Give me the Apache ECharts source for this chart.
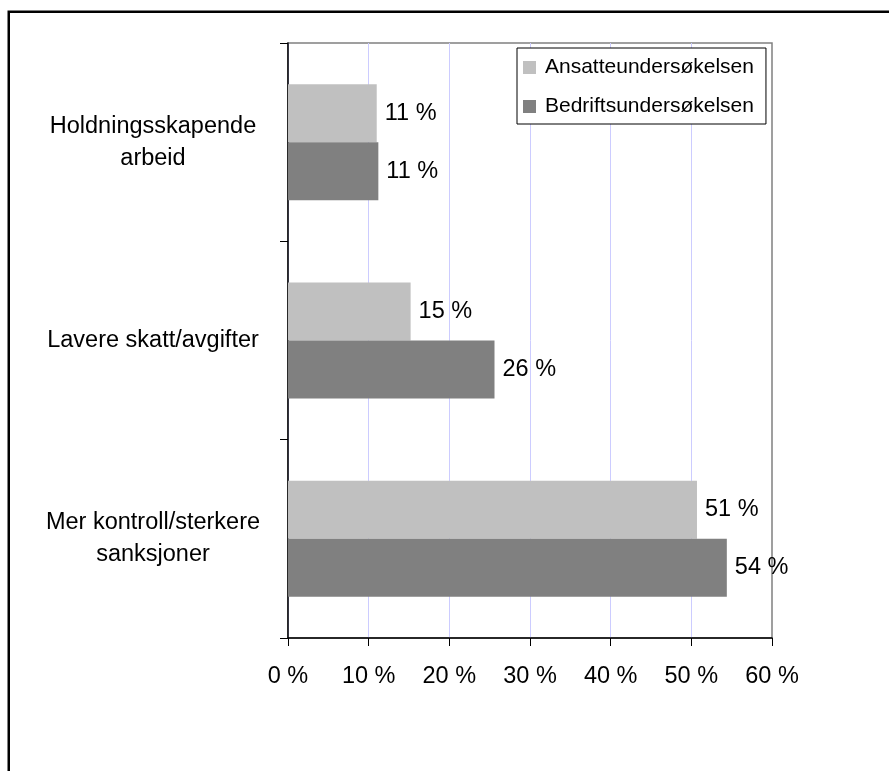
<!DOCTYPE html>
<html>
<head>
<meta charset="utf-8">
<script src="https://cdn.jsdelivr.net/npm/echarts@6/dist/echarts.min.js"></script>
<style>
  html, body { margin: 0; padding: 0; background: #fff; }
  #chart { width: 889px; height: 771px; }
</style>
</head>
<body>
<div id="chart"></div>
<script>
// categories top to bottom
var categories = ['Holdningsskapende\narbeid', 'Lavere skatt/avgifter', 'Mer kontroll/sterkere\nsanksjoner'];
var seriesNames = ['Ansatteundersøkelsen', 'Bedriftsundersøkelsen'];
var ansatte = [11.0, 15.2, 50.7];
var bedrift = [11.2, 25.6, 54.4];
var xTicks = [0, 10, 20, 30, 40, 50, 60];

var font = "'Liberation Sans', Arial, sans-serif";
var chart = echarts.init(document.getElementById('chart'));

var barLabel = {
    show: true,
    position: 'right',
    distance: 8,
    color: '#000',
    fontFamily: font,
    fontSize: 23.5,
    formatter: function (p) { return Math.round(p.value) + ' %'; }
};

chart.setOption({
    backgroundColor: '#fff',
    animation: false,
    graphic: [{
        type: 'rect',
        shape: { x: 8.75, y: 11.75, width: 1000, height: 1000 },
        style: { fill: 'none', stroke: '#000', lineWidth: 2.5 },
        silent: true
    }],
    legend: {
        orient: 'vertical',
        left: 517,
        top: 48,
        padding: [9, 12, 7, 6],
        itemGap: 18,
        itemWidth: 13,
        itemHeight: 13,
        icon: 'rect',
        borderColor: '#000',
        borderWidth: 1,
        backgroundColor: '#fff',
        textStyle: { fontFamily: font, fontSize: 21, color: '#000', padding: [0, 0, 0, 4] },
        data: seriesNames
    },
    grid: {
        show: true,
        left: 288,
        top: 43,
        width: 484,
        height: 595,
        borderColor: '#808080',
        borderWidth: 1.5,
        backgroundColor: '#fff'
    },
    xAxis: {
        type: 'value',
        min: xTicks[0],
        max: xTicks[xTicks.length - 1],
        interval: 10,
        axisLine: { show: true, lineStyle: { color: '#000', width: 1.5 } },
        axisTick: { show: true, length: 8, lineStyle: { color: '#000' } },
        splitLine: { show: true, showMaxLine: false, lineStyle: { color: '#ccccff', width: 1 } },
        axisLabel: { margin: 27, color: '#000', fontFamily: font, fontSize: 23.5, formatter: '{value} %' }
    },
    yAxis: {
        type: 'category',
        inverse: true,
        data: categories,
        axisLine: { show: true, lineStyle: { color: '#000', width: 1.5 } },
        axisTick: { show: true, length: 8, lineStyle: { color: '#000' } },
        splitLine: { show: false },
        axisLabel: {
            margin: 135,
            align: 'center',
            color: '#000',
            fontFamily: font,
            fontSize: 23.5,
            lineHeight: 32
        }
    },
    series: [
        {
            name: seriesNames[0],
            type: 'bar',
            data: ansatte,
            barWidth: 58,
            barGap: '0%',
            itemStyle: { color: '#c0c0c0' },
            label: barLabel
        },
        {
            name: seriesNames[1],
            type: 'bar',
            data: bedrift,
            barWidth: 58,
            barGap: '0%',
            itemStyle: { color: '#808080' },
            label: barLabel
        }
    ]
});
</script>
</body>
</html>
